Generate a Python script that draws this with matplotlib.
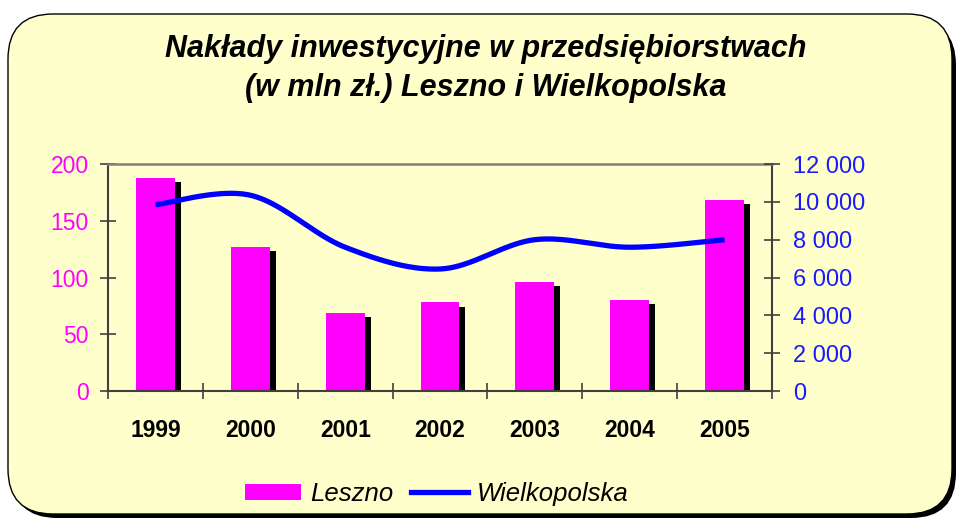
import numpy as np
import matplotlib
matplotlib.use("Agg")
import matplotlib.pyplot as plt
from matplotlib.patches import FancyBboxPatch, Patch
from matplotlib.lines import Line2D
import matplotlib.patheffects as pe
from matplotlib.ticker import FuncFormatter

# dane
years = ["1999", "2000", "2001", "2002", "2003", "2004", "2005"]
leszno = [188, 127, 69, 78, 96, 80, 168]
wielkopolska = [9850, 10350, 7600, 6450, 8000, 7600, 8000]
left_ticks = [0, 50, 100, 150, 200]
right_ticks = [0, 2000, 4000, 6000, 8000, 10000, 12000]

plt.rcParams['font.family'] = ['Liberation Sans', 'DejaVu Sans']

fig = plt.figure(figsize=(9.68, 5.19), dpi=100)
fig.patch.set_facecolor('white')

# tlo z zaokraglonymi rogami + cien
tr = fig.dpi_scale_trans
shadow = FancyBboxPatch((0.12, 0.01), 9.44, 4.98, boxstyle="round,pad=0,rounding_size=0.45",
                        transform=tr, facecolor='black', edgecolor='none', zorder=-3)
box = FancyBboxPatch((0.08, 0.05), 9.44, 5.0, boxstyle="round,pad=0,rounding_size=0.45",
                     transform=tr, facecolor='#ffffcc', edgecolor='black', linewidth=1.0, zorder=-2)
fig.patches.extend([shadow, box])

ax = fig.add_axes([0.1116, 0.2466, 0.686, 0.4374])
ax.set_facecolor('none')
x = np.arange(len(years))

bars = ax.bar(x, leszno, width=0.41, color='#ff00ff', zorder=2)
for b in bars:
    b.set_path_effects([pe.SimplePatchShadow(offset=(4.3, -3.0), shadow_rgbFace='black', alpha=1.0),
                        pe.Normal()])

ax.set_xlim(-0.5, len(years) - 0.5)
ax.set_ylim(0, 200)
ax.set_yticks(left_ticks)
ax.set_xticks(np.arange(-0.5, len(years)), [''] * (len(years) + 1))
ax.set_xticks(x, years, minor=True)
ax.tick_params(axis='x', which='major', direction='inout', length=11, width=1.2, color='#404040')
ax.tick_params(axis='x', which='minor', length=0, pad=20, labelsize=16.5)
for t in ax.get_xticklabels(minor=True):
    t.set_fontweight('bold')
ax.tick_params(axis='y', direction='inout', length=12, width=1.2, color='#404040',
               labelcolor='#ff00ff', labelsize=16.5, pad=8)

for s in ['left', 'bottom', 'right']:
    ax.spines[s].set_color('#404040')
    ax.spines[s].set_linewidth(1.5)
ax.spines['top'].set_color('#808080')
ax.spines['top'].set_linewidth(1.8)

ax2 = ax.twinx()
ax2.set_ylim(0, 12000)
ax2.set_yticks(right_ticks)
ax2.yaxis.set_major_formatter(FuncFormatter(lambda v, p: f"{int(v):,}".replace(",", " ")))
ax2.tick_params(axis='y', direction='inout', length=11, width=1.2, color='#404040',
                labelcolor='#1a1aff', labelsize=17, pad=9.5)
for s in ax2.spines.values():
    s.set_visible(False)

# wygladzona linia (Catmull-Rom / Bezier jak w Excelu)
px = x.astype(float)
py = np.array(wielkopolska, dtype=float)
P = np.column_stack([px, py])
Pe = np.vstack([P[0], P, P[-1]])
cx, cy = [], []
tt = np.linspace(0, 1, 40)
for i in range(len(P) - 1):
    p0, p1, p2, p3 = Pe[i], Pe[i + 1], Pe[i + 2], Pe[i + 3]
    b1 = p1 + (p2 - p0) / 6
    b2 = p2 - (p3 - p1) / 6
    seg = ((1 - tt) ** 3)[:, None] * p1 + (3 * (1 - tt) ** 2 * tt)[:, None] * b1 \
        + (3 * (1 - tt) * tt ** 2)[:, None] * b2 + (tt ** 3)[:, None] * p2
    cx.extend(seg[:, 0]); cy.extend(seg[:, 1])
ax2.plot(cx, cy, color='#0000ff', linewidth=3.8, solid_capstyle='butt', zorder=3)

fig.text(0.5016, 0.905, "Nakłady inwestycyjne w przedsiębiorstwach",
         ha='center', va='center', fontsize=22, fontweight='bold', fontstyle='italic')
fig.text(0.5016, 0.831, "(w mln zł.) Leszno i Wielkopolska",
         ha='center', va='center', fontsize=22, fontweight='bold', fontstyle='italic')

handles = [Patch(facecolor='#ff00ff', edgecolor='none'),
           Line2D([], [], color='#0000ff', linewidth=3.8)]
leg = fig.legend(handles, ["Leszno", "Wielkopolska"], loc='center', bbox_to_anchor=(0.451, 0.048),
                 ncol=2, frameon=False, handlelength=2.2, handleheight=0.6, handletextpad=0.35,
                 columnspacing=0.7, prop={'size': 18.5, 'style': 'italic'})

fig.savefig("out.png", dpi=100)
